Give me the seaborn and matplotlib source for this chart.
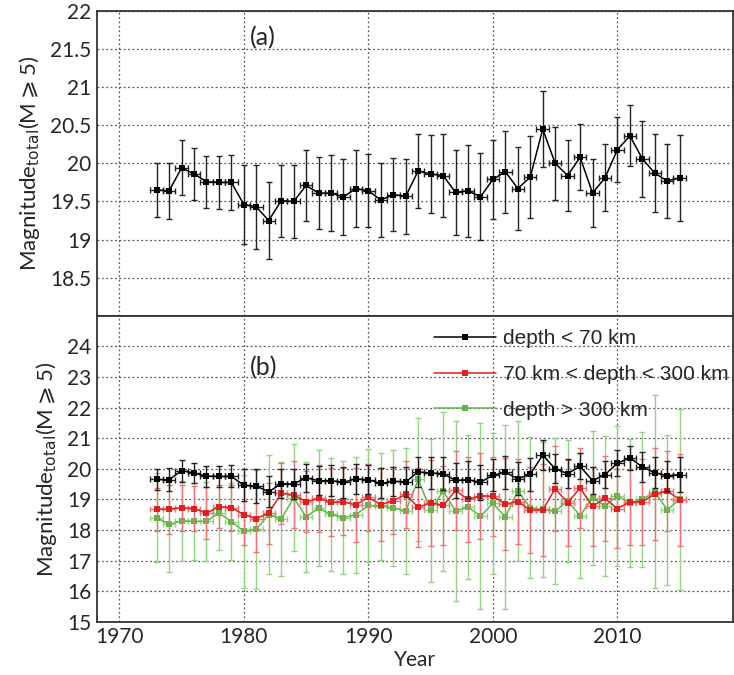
import numpy as np
import pandas as pd
import matplotlib
matplotlib.use("Agg")
import matplotlib.pyplot as plt
from matplotlib.lines import Line2D
from matplotlib.ticker import MultipleLocator
import seaborn as sns

YEARS = list(range(1973, 2016))

# panel (a): all events
TOTAL = [19.65, 19.64, 19.94, 19.86, 19.76, 19.75, 19.75, 19.46, 19.43, 19.25,
         19.51, 19.50, 19.71, 19.61, 19.61, 19.56, 19.67, 19.64, 19.52, 19.59,
         19.57, 19.90, 19.86, 19.84, 19.62, 19.64, 19.56, 19.79, 19.89, 19.67,
         19.82, 20.45, 20.00, 19.84, 20.08, 19.61, 19.81, 20.18, 20.36, 20.06,
         19.87, 19.77, 19.81]
TOTAL_ERR = [0.35, 0.37, 0.36, 0.34, 0.34, 0.35, 0.36, 0.52, 0.55, 0.50,
             0.47, 0.48, 0.46, 0.47, 0.50, 0.50, 0.50, 0.48, 0.49, 0.48,
             0.49, 0.49, 0.51, 0.54, 0.56, 0.60, 0.57, 0.52, 0.54, 0.54,
             0.54, 0.50, 0.48, 0.47, 0.43, 0.45, 0.44, 0.43, 0.40, 0.50,
             0.51, 0.49, 0.56]

# panel (b): by depth
SHALLOW = TOTAL
SHALLOW_ERR = TOTAL_ERR
MID = [18.68, 18.68, 18.73, 18.70, 18.55, 18.76, 18.73, 18.50, 18.37, 18.55,
       19.20, 19.15, 18.92, 19.03, 18.91, 18.92, 18.82, 19.07, 18.83, 18.96,
       19.16, 18.74, 18.89, 18.80, 19.29, 19.00, 19.12, 19.10, 18.85, 18.93,
       18.65, 18.65, 19.35, 18.89, 19.37, 18.77, 19.03, 18.70, 18.91, 18.92,
       19.18, 19.27, 18.99]
MID_ERR = [0.70, 0.80, 0.75, 0.75, 0.85, 0.70, 0.75, 1.00, 1.10, 1.00,
           1.00, 1.10, 1.00, 1.10, 1.10, 1.10, 1.20, 1.10, 1.20, 1.10,
           1.10, 1.30, 1.40, 1.30, 1.30, 1.40, 1.40, 1.30, 1.50, 1.40,
           1.40, 1.50, 1.40, 1.40, 1.30, 1.30, 1.40, 1.30, 1.40, 1.40,
           1.50, 1.30, 1.50]
DEEP = [18.40, 18.18, 18.30, 18.28, 18.28, 18.55, 18.27, 17.96, 18.02, 18.50,
        18.36, 19.05, 18.43, 18.71, 18.51, 18.40, 18.50, 18.80, 18.78, 18.72,
        18.62, 19.65, 18.64, 19.27, 18.62, 18.75, 18.45, 18.87, 18.42, 19.27,
        18.73, 18.67, 18.62, 18.94, 18.47, 19.05, 18.78, 19.11, 18.89, 19.00,
        19.25, 18.66, 19.00]
DEEP_ERR = [1.45, 1.55, 1.30, 1.25, 1.30, 1.20, 1.25, 1.85, 1.95, 1.95,
            1.85, 1.75, 1.80, 1.90, 1.85, 1.85, 1.90, 1.85, 1.75, 1.90,
            2.05, 2.00, 2.35, 2.60, 2.95, 2.35, 3.05, 2.30, 3.00, 2.30,
            2.30, 2.20, 2.40, 2.00, 2.05, 2.20, 2.30, 2.30, 2.10, 2.20,
            3.15, 2.45, 2.95]

LABELS = ["depth < 70 km", "70 km < depth < 300 km", "depth > 300 km"]
LINE_COLORS = ["#000000", "#e02020", "#5cb848"]
ERR_COLORS = ["#222222", "#ec7474", "#93d483"]

YLABEL = r"Magnitude$_{\mathrm{total}}$(M$\geqslant$5)"


def style_axis(ax, ymin, ymax, major, minor):
    ax.set_xlim(1968.2, 2019.3)
    ax.set_ylim(ymin, ymax)
    ax.xaxis.set_major_locator(MultipleLocator(10))
    ax.xaxis.set_minor_locator(MultipleLocator(2))
    ax.yaxis.set_major_locator(MultipleLocator(major))
    ax.yaxis.set_minor_locator(MultipleLocator(minor))
    ax.tick_params(which="both", direction="in", top=False, right=False,
                   labelsize=15, pad=4)
    ax.tick_params(which="major", length=9, width=1.1)
    ax.tick_params(which="minor", length=5, width=0.9)
    ax.grid(True, which="major", ls=(0, (1.5, 2)), color="0.35", lw=0.9)
    for sp in ax.spines.values():
        sp.set_color("0.2")
        sp.set_linewidth(1.3)
    ax.set_ylabel(YLABEL, fontsize=16, labelpad=6)


def draw_series(ax, y, err, color, ecolor, z):
    ax.errorbar(YEARS, y, yerr=err, xerr=0.5, fmt="none", ecolor=ecolor,
                elinewidth=1.0, capsize=2.5, capthick=1.0, zorder=z)
    sns.lineplot(x=YEARS, y=y, ax=ax, color=color, lw=1.1, marker="s",
                 markersize=4.5, markeredgewidth=0, zorder=z + 0.5)


sns.set_theme(style="white")
plt.rcParams["font.family"] = ["Lato", "DejaVu Sans"]
plt.rcParams["mathtext.fontset"] = "dejavusans"

fig = plt.figure(figsize=(7.34, 6.75), dpi=100)
ax_a = fig.add_axes([0.132, 0.532, 0.867, 0.452])
ax_b = fig.add_axes([0.132, 0.079, 0.867, 0.453], sharex=ax_a)

# panel (a)
draw_series(ax_a, TOTAL, TOTAL_ERR, LINE_COLORS[0], ERR_COLORS[0], 5)
style_axis(ax_a, 18, 22, 0.5, 0.1)
ax_a.set_yticks([18.5, 19, 19.5, 20, 20.5, 21, 21.5, 22])
ax_a.set_yticklabels(["18.5", "19", "19.5", "20", "20.5", "21", "21.5", "22"])
ax_a.tick_params(axis="x", labelbottom=False)
ax_a.set_xlabel("")
ax_a.text(1980.5, 21.55, "(a)", fontsize=18)

# panel (b)
series = [(SHALLOW, SHALLOW_ERR), (MID, MID_ERR), (DEEP, DEEP_ERR)]
for i in (2, 1, 0):
    y, err = series[i]
    draw_series(ax_b, y, err, LINE_COLORS[i], ERR_COLORS[i], 3 + 2 * (2 - i))
style_axis(ax_b, 15, 25, 1, 0.2)
ax_b.set_yticks(list(range(15, 25)))
ax_b.set_xlabel("Year", fontsize=15, labelpad=2)
ax_b.text(1980.5, 23.05, "(b)", fontsize=18)

handles = [Line2D([], [], color=c, lw=1.1, marker="s", markersize=4.5,
                  markeredgewidth=0) for c in LINE_COLORS]
leg = ax_b.legend(handles, LABELS, loc="upper left", bbox_to_anchor=(0.5, 1.017),
                  frameon=False, handlelength=3.0, labelspacing=0.8,
                  handletextpad=0.3, prop={"family": "Liberation Sans", "size": 15})

fig.savefig("out.png", dpi=100)
